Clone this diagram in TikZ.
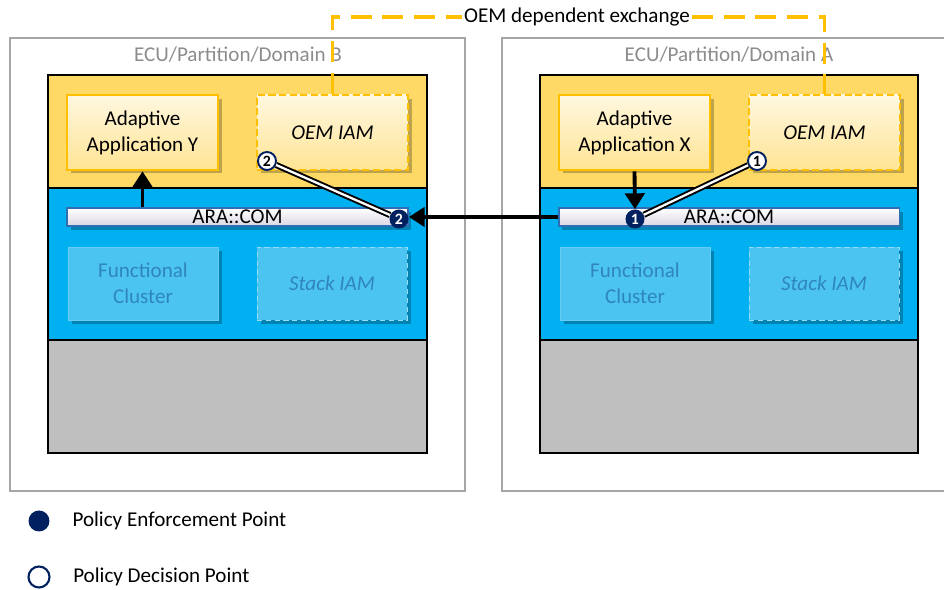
\documentclass[tikz,border=0pt]{standalone}
\usepackage{fontspec}
\setmainfont{Carlito}
\usetikzlibrary{positioning,arrows.meta,shadows}
\definecolor{iamorange}{HTML}{FFC000}
\definecolor{appyellow}{HTML}{FFD966}
\definecolor{comblue}{HTML}{00B0F0}
\definecolor{basegray}{HTML}{BFBFBF}
\definecolor{pepnavy}{HTML}{002060}
\definecolor{fcblue}{HTML}{4CC4F2}
\definecolor{fctext}{HTML}{2F86BA}
\definecolor{ecugray}{HTML}{8C8C8C}
\definecolor{bargray}{HTML}{DAD5E4}
\definecolor{barblue}{HTML}{2F6EB5}

\begin{document}
\begin{tikzpicture}[x=0.02cm,y=-0.02cm,font=\fontsize{12}{14.8}\selectfont,
  ecubox/.style={draw=black!35,line width=1pt},
  ecutitle/.style={text=ecugray},
  layer/.style={draw=black,line width=0.9pt},
  shade/.style={drop shadow={shadow xshift=2pt,shadow yshift=-2pt,opacity=.25,fill=black}},
  appbox/.style={shade,draw=iamorange,line width=1.5pt,top color=white!80!appyellow,bottom color=appyellow!70!white,
    minimum width=3.02cm,minimum height=1.5cm,align=center},
  iambox/.style={appbox,dashed,dash pattern=on 4pt off 2pt,font=\fontsize{12}{14.8}\selectfont\itshape},
  combar/.style={shade,draw=barblue,line width=1.1pt,top color=white,bottom color=bargray,
    minimum width=6.82cm,minimum height=0.36cm,inner sep=0pt},
  fcbox/.style={shade,draw=fcblue!85!white,fill=fcblue,text=fctext,minimum width=3cm,minimum height=1.46cm,align=center},
  stackbox/.style={fcbox,dashed,dash pattern=on 3pt off 2pt,draw=fcblue!60!white,font=\fontsize{12}{14.8}\selectfont\itshape},
  pep/.style={circle,fill=pepnavy,text=white,inner sep=0pt,minimum size=0.38cm,font=\fontsize{9}{10}\selectfont\bfseries},
  pdp/.style={circle,fill=white,draw=pepnavy,line width=1.1pt,text=black,inner sep=0pt,minimum size=0.36cm,font=\fontsize{9}{10}\selectfont\bfseries},
  flow/.style={line width=2.2pt,-{Triangle[length=9pt,width=11pt]}},
  pdlink/.style={draw=black,double=white,line width=1.1pt,double distance=1.3pt},
  exch/.style={iamorange,line width=2pt,dash pattern=on 12pt off 6pt}]
 \useasboundingbox (0,0) rectangle (944,590);

 \draw[ecubox] (10,38) rectangle (465,491);
 \draw[ecubox] (502,38) rectangle (980,491);
 \node[ecutitle] (titleB) at (238,55) {ECU/Partition/Domain B};
 \node[ecutitle] (titleA) at (729,55) {ECU/Partition/Domain A};

 \draw[layer,fill=appyellow] (48,75) rectangle (427,188);
 \draw[layer,fill=comblue] (48,188) rectangle (427,340);
 \draw[layer,fill=basegray] (48,340) rectangle (427,453);
 \draw[layer,fill=appyellow] (540,75) rectangle (918,188);
 \draw[layer,fill=comblue] (540,188) rectangle (918,340);
 \draw[layer,fill=basegray] (540,340) rectangle (918,453);

 \node[appbox] (appY) at (142.5,132.5) {Adaptive\\Application Y};
 \node[iambox] (oemB) at (332.5,132.5) {OEM IAM};
 \node[combar] (comB) at (237.5,217) {ARA::COM};
 \node[fcbox] (fcB) at (143,283.5) {Functional\\Cluster};
 \node[stackbox] (stackB) at (332,283.5) {Stack IAM};

 \node[appbox] (appX) at (634.5,132.5) {Adaptive\\Application X};
 \node[iambox] (oemA) at (824.5,132.5) {OEM IAM};
 \node[combar] (comA) at (729,217) {ARA::COM};
 \node[fcbox] (fcA) at (635,283.5) {Functional\\Cluster};
 \node[stackbox] (stackA) at (824,283.5) {Stack IAM};

 \node[pep] (pepA) at (635,219) {1};
 \node[pdp] (pdpA) at (757,161) {1};
 \node[pep] (pepB) at (399,219) {2};
 \node[pdp] (pdpB) at (267,161) {2};

 \node[inner sep=1pt] (exch) at (577,17) {OEM dependent exchange};
 \draw[exch] (oemB.north) |- (exch.west);
 \draw[exch] (exch.east) -| (oemA.north);

 \draw[flow] (appY.south |- comB.north) -- (appY.south);
 \draw[flow] (appX.south) -- (pepA.north);
 \draw[flow] (comA.west) -- (comB.east);
 \draw[pdlink] (pdpA) -- (pepA);
 \draw[pdlink] (pdpB) -- (pepB);

 \node[pep,minimum size=0.42cm] (legpep) at (39,521) {};
 \node[right=0.33cm of legpep] (legpeptext) {Policy Enforcement Point};
 \node[pdp,minimum size=0.42cm,line width=1.2pt] (legpdp) at (39,577) {};
 \node[right=0.33cm of legpdp] (legpdptext) {Policy Decision Point};
\end{tikzpicture}
\end{document}
